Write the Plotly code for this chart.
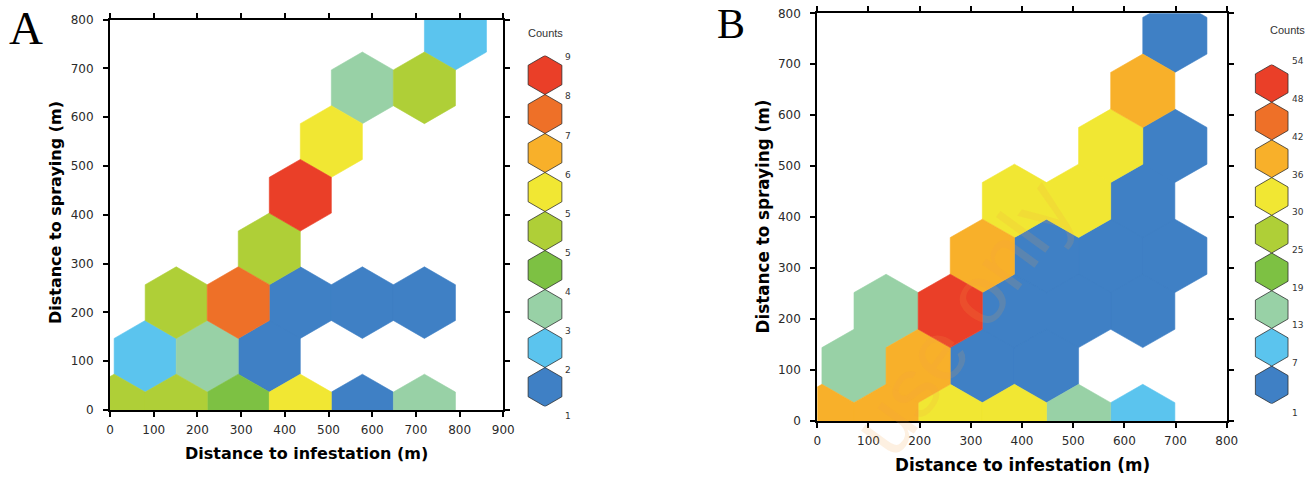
import numpy as np
import plotly.graph_objects as go

W, H = 1314, 477

# ---------------- data ----------------
# Panel A: hexbin cells (bin centres, metres) and counts
a_x = [9.5, 151.5, 293.5, 435.5, 577.5, 719.5,
       80.5, 222.5, 364.5,
       151.5, 293.5, 435.5, 577.5, 719.5,
       364.5,
       435.5,
       506.5,
       577.5, 719.5,
       790.5]
a_y = [0, 0, 0, 0, 0, 0,
       110, 110, 110,
       220, 220, 220, 220, 220,
       330,
       440,
       550,
       660, 660,
       770]
a_counts = [5, 5, 4, 6, 1, 3,
            2, 3, 1,
            5, 8, 1, 1, 1,
            5,
            9,
            6,
            3, 5,
            2]
a_ticklabels = ["1", "2", "3", "4", "5", "5", "6", "7", "8", "9"]

# Panel B
b_x = [9, 134.4, 259.8, 385.2, 510.6, 636,
       71.7, 197.1, 322.5, 447.9,
       134.4, 259.8, 385.2, 510.6, 636,
       322.5, 447.9, 573.3, 698.7,
       385.2, 510.6, 636,
       573.3, 698.7,
       636,
       698.7]
b_y = [0, 0, 0, 0, 0, 0,
       108, 108, 108, 108,
       216, 216, 216, 216, 216,
       324, 324, 324, 324,
       432, 432, 432,
       540, 540,
       648,
       756]
b_counts = [38, 40, 33, 32, 16, 10,
            17, 39, 4, 3,
            15, 54, 2, 5, 3,
            41, 1, 2, 6,
            34, 31, 4,
            35, 2,
            38,
            1]
b_ticklabels = ["1", "7", "13", "19", "25", "30", "36", "42", "48", "54"]

# ---------------- styles ----------------
palette = ["#3F80C5", "#5BC4EE", "#98D1A6", "#7DC143", "#AFCF37",
           "#F1E733", "#F8B02A", "#EE7028", "#EA3F28"]
A_SX, A_SY = 142.0, 220.0
B_SX, B_SY = 125.4, 216.0

# pixel boxes of the plot areas (left, right, top, bottom)
A_BOX = (110, 503.3, 19.5, 410)
B_BOX = (817.3, 1226.7, 13.3, 421)


def dom_x(l, r):
    return [l / W, r / W]


def dom_y(t, b):
    return [1 - b / H, 1 - t / H]


def color_index(c, cmin, cmax):
    bounds = np.linspace(cmin, cmax, len(palette) + 1)
    i = int(np.searchsorted(bounds, c, side="right")) - 1
    return max(0, min(i, len(palette) - 1))


def hex_traces(xs, ys, counts, sx, sy, xa, ya):
    offs = np.array([[.5, -.5], [.5, .5], [0., 1.], [-.5, .5], [-.5, -.5], [0., -1.], [.5, -.5]])
    offs = offs * np.array([sx, sy / 3.0])
    cmin, cmax = min(counts), max(counts)
    groups = {}
    for x, y, c in zip(xs, ys, counts):
        k = color_index(c, cmin, cmax)
        gx, gy = groups.setdefault(k, ([], []))
        gx.extend(list(x + offs[:, 0]) + [None])
        gy.extend(list(y + offs[:, 1]) + [None])
    traces = []
    for k, (gx, gy) in sorted(groups.items()):
        traces.append(go.Scatter(x=gx, y=gy, mode="lines", fill="toself",
                                 fillcolor=palette[k],
                                 line=dict(color=palette[k], width=0.6),
                                 xaxis=xa, yaxis=ya, hoverinfo="skip",
                                 showlegend=False))
    return traces


fig = go.Figure()
for t in hex_traces(a_x, a_y, a_counts, A_SX, A_SY, "x", "y"):
    fig.add_trace(t)
for t in hex_traces(b_x, b_y, b_counts, B_SX, B_SY, "x2", "y2"):
    fig.add_trace(t)

# colour-key hexagons
fig.add_trace(go.Scatter(x=[40] * 9, y=[k + 0.5 for k in range(9)], mode="markers",
                         marker=dict(symbol="hexagon", size=39, color=palette,
                                     line=dict(color="rgba(40,40,40,0.75)", width=1)),
                         xaxis="x3", yaxis="y3", hoverinfo="skip", showlegend=False))
fig.add_trace(go.Scatter(x=[39.7] * 9, y=[k + 0.5 for k in range(9)], mode="markers",
                         marker=dict(symbol="hexagon", size=37.7, color=palette,
                                     line=dict(color="rgba(40,40,40,0.75)", width=1)),
                         xaxis="x4", yaxis="y4", hoverinfo="skip", showlegend=False))

tickfont = dict(family="DejaVu Sans", size=12, color="#2a2a2a")
axis_common = dict(showline=True, linecolor="black", linewidth=2, mirror="ticks",
                   ticks="outside", ticklen=5, tickwidth=1.5, tickcolor="black",
                   showgrid=False, zeroline=False, tickfont=tickfont, fixedrange=True)

fig.update_layout(
    width=W, height=H, margin=dict(l=0, r=0, t=0, b=0, autoexpand=False),
    paper_bgcolor="white", plot_bgcolor="white",
    xaxis=dict(domain=dom_x(A_BOX[0], A_BOX[1]), range=[0, 900], tickvals=list(range(0, 901, 100)),
               anchor="y", ticklabelstandoff=3, **axis_common),
    yaxis=dict(domain=dom_y(A_BOX[2], A_BOX[3]), range=[0, 800], tickvals=list(range(0, 801, 100)),
               anchor="x", ticklabelstandoff=7, **axis_common),
    xaxis2=dict(domain=dom_x(B_BOX[0], B_BOX[1]), range=[0, 800], tickvals=list(range(0, 801, 100)),
                anchor="y2", ticklabelstandoff=3, **axis_common),
    yaxis2=dict(domain=dom_y(B_BOX[2], B_BOX[3]), range=[0, 800], tickvals=list(range(0, 801, 100)),
                anchor="x2", ticklabelstandoff=7, **axis_common),
    xaxis3=dict(domain=dom_x(505, 585), range=[0, 80], visible=False, anchor="y3", fixedrange=True),
    yaxis3=dict(domain=dom_y(55.5, 406.5), range=[0, 9], visible=False, anchor="x3", fixedrange=True),
    xaxis4=dict(domain=dom_x(1232, 1312), range=[0, 80], visible=False, anchor="y4", fixedrange=True),
    yaxis4=dict(domain=dom_y(64.5, 403.8), range=[0, 9], visible=False, anchor="x4", fixedrange=True),
)

ann = []
title_font = dict(family="DejaVu Sans", size=16, color="black", weight="bold")
ann.append(dict(text="Distance to infestation (m)", x=306.5 / W, y=1 - 453 / H, xref="paper", yref="paper",
                showarrow=False, xanchor="center", yanchor="middle", font=title_font))
ann.append(dict(text="Distance to spraying (m)", x=55 / W, y=1 - 213 / H, xref="paper", yref="paper",
                showarrow=False, xanchor="center", yanchor="middle", textangle=-90, font=title_font))
title_font_b = dict(title_font, size=16.8)
ann.append(dict(text="Distance to infestation (m)", x=1022 / W, y=1 - 465 / H, xref="paper", yref="paper",
                showarrow=False, xanchor="center", yanchor="middle", font=title_font_b))
ann.append(dict(text="Distance to spraying (m)", x=762.5 / W, y=1 - 217 / H, xref="paper", yref="paper",
                showarrow=False, xanchor="center", yanchor="middle", textangle=-90, font=title_font_b))
# panel letters
ann.append(dict(text="A", x=26 / W, y=1 - 28 / H, xref="paper", yref="paper", showarrow=False,
                xanchor="center", yanchor="middle",
                font=dict(family="Liberation Serif", size=47, color="black")))
ann.append(dict(text="B", x=731 / W, y=1 - 23.5 / H, xref="paper", yref="paper", showarrow=False,
                xanchor="center", yanchor="middle",
                font=dict(family="Liberation Serif", size=42, color="black")))
# key titles
key_title_font = dict(family="Liberation Sans", size=11, color="#333333")
ann.append(dict(text="Counts", x=545 / W, y=1 - 33 / H, xref="paper", yref="paper", showarrow=False,
                xanchor="center", yanchor="middle", font=key_title_font))
ann.append(dict(text="Counts", x=1287 / W, y=1 - 30 / H, xref="paper", yref="paper", showarrow=False,
                xanchor="center", yanchor="middle", font=key_title_font))
# key labels
key_font = dict(family="DejaVu Sans", size=9, color="#333333")
for k, lab in enumerate(a_ticklabels):
    ann.append(dict(text=lab, x=58, y=k, xref="x3", yref="y3", showarrow=False,
                    xanchor="left", yanchor="middle", yshift=-9 if k == 0 else -2, font=key_font))
for k, lab in enumerate(b_ticklabels):
    ann.append(dict(text=lab, x=58, y=k, xref="x4", yref="y4", showarrow=False,
                    xanchor="left", yanchor="middle", yshift=-9 if k == 0 else 3, font=key_font))
# watermark
ann.append(dict(text="use only", x=962 / W, y=1 - 318 / H, xref="paper", yref="paper", showarrow=False,
                xanchor="center", yanchor="middle", textangle=-54,
                font=dict(family="Liberation Sans", size=84, color="rgba(245,160,70,0.16)")))

fig.update_layout(annotations=ann)
fig.write_html("out.html", config={"displayModeBar": False},
               post_script="document.body.style.margin='0';document.body.style.padding='0';"
                           "document.body.style.overflow='hidden';")
